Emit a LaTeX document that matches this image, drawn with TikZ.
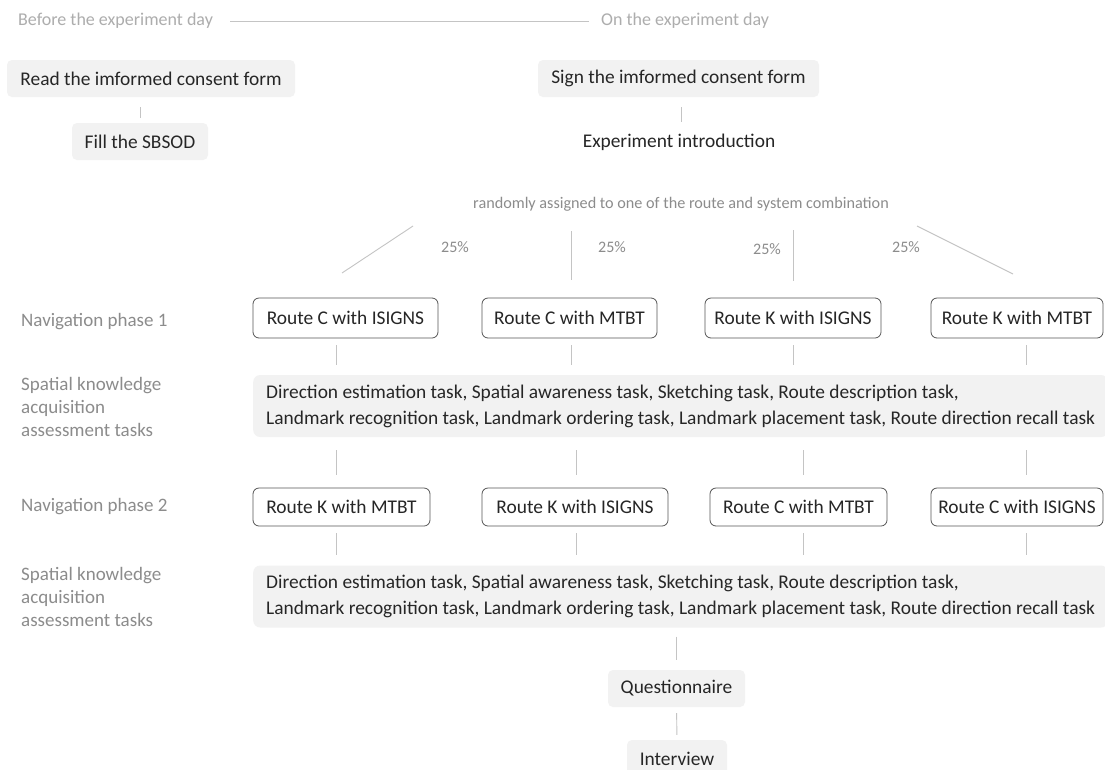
\documentclass[tikz,border=0pt]{standalone}
\usepackage{fontspec}
\setmainfont{Carlito}
\usetikzlibrary{calc}
\definecolor{boxgray}{HTML}{F2F2F2}
\definecolor{txt}{HTML}{262626}
\definecolor{lbl}{HTML}{8C8C8C}
\definecolor{hdr}{HTML}{ADADAD}
\definecolor{linegray}{HTML}{C4C4C4}
\definecolor{edge}{HTML}{555555}
\begin{document}
\begin{tikzpicture}[x=1pt,y=-1pt,
  base/.style={font=\fontsize{19.4}{26}\selectfont, text=txt, inner sep=0pt},
  graybox/.style={base, fill=boxgray, rounded corners=5pt},
  routebox/.style={base, draw=edge, fill=white, rounded corners=6pt, line width=0.8pt},
  taskbox/.style={font=\fontsize{19.4}{26}\selectfont, text=txt, fill=boxgray, rounded corners=7pt, align=left, inner xsep=13pt, inner ysep=0pt, minimum height=62pt, anchor=west},
  lab/.style={font=\fontsize{19}{23}\selectfont, text=lbl, align=left, anchor=west, inner sep=0pt},
  hdrtext/.style={font=\fontsize{18}{20}\selectfont, text=hdr, inner sep=0pt},
  pct/.style={font=\fontsize{16}{18}\selectfont, text=lbl, inner sep=0pt},
  conn/.style={draw=linegray, line width=0.9pt},
]
\useasboundingbox (0,0) rectangle (1105,769);
\fill[white] (0,0) rectangle (1105,769);

% header
\node[hdrtext, anchor=west] (before) at (18,21) {Before the experiment day};
\node[hdrtext, anchor=west] (on) at (601,21) {On the experiment day};
\draw[conn] ([xshift=17pt]before.east) -- ([xshift=-12pt]on.west);

% top boxes
\node[graybox, minimum width=288pt, minimum height=37pt] (read) at (151,78.5) {Read the imformed consent form};
\node[graybox, minimum width=136pt, minimum height=37pt] (fill) at (140,141.5) {Fill the SBSOD};
\node[graybox, minimum width=281pt, minimum height=37pt] (sign) at (678.5,78.5) {Sign the imformed consent form};
\node[base, minimum height=22pt] (intro) at (679,142) {Experiment introduction};
\draw[conn, shorten <=10pt, shorten >=5pt] (read.south -| fill.north) -- (fill.north);
\draw[conn, shorten <=10pt, shorten >=9pt] ([xshift=3pt]sign.south) -- ([xshift=3pt]sign.south |- intro.north);

\node[font=\fontsize{16.2}{18}\selectfont, text=lbl, inner sep=0pt] (rand) at (681,204) {randomly assigned to one of the route and system combination};

% distribution lines
\coordinate (d1a) at (413,226); \coordinate (d1b) at (342,273);
\coordinate (d2a) at (571,231); \coordinate (d2b) at (571,280);
\coordinate (d3a) at (793,230); \coordinate (d3b) at (793,281);
\coordinate (d4a) at (917,226); \coordinate (d4b) at (1013,274);
\draw[conn] (d1a) -- (d1b);
\draw[conn] (d2a) -- (d2b);
\draw[conn] (d3a) -- (d3b);
\draw[conn] (d4a) -- (d4b);
\node[pct] (p1) at (455,247) {25\%};
\node[pct] (p2) at (612,247) {25\%};
\node[pct] (p3) at (767,249) {25\%};
\node[pct] (p4) at (906,247) {25\%};

% row labels
\node[lab] (n1) at (21,322) {Navigation phase 1};
\node[lab] (s1) at (21,407) {Spatial knowledge\\acquisition\\assessment tasks};
\node[lab] (n2) at (21,507) {Navigation phase 2};
\node[lab] (s2) at (21,597) {Spatial knowledge\\acquisition\\assessment tasks};

% phase 1
\node[routebox, minimum width=185pt, minimum height=40pt] (a1) at (345.5,318) {Route C with ISIGNS};
\node[routebox, minimum width=175pt, minimum height=40pt] (a2) at (569.5,318) {Route C with MTBT};
\node[routebox, minimum width=176pt, minimum height=40pt] (a3) at (793,318) {Route K with ISIGNS};
\node[routebox, minimum width=172pt, minimum height=40pt] (a4) at (1017,318) {Route K with MTBT};

% task box 1
\node[taskbox] (t1) at (253,406) {Direction estimation task, Spatial awareness task, Sketching task, Route description task,\\Landmark recognition task, Landmark ordering task, Landmark placement task, Route direction recall task};

% phase 2
\node[routebox, minimum width=177pt, minimum height=38pt] (b1) at (341.5,507) {Route K with MTBT};
\node[routebox, minimum width=186pt, minimum height=38pt] (b2) at (575,507) {Route K with ISIGNS};
\node[routebox, minimum width=177pt, minimum height=38pt] (b3) at (798.5,507) {Route C with MTBT};
\node[routebox, minimum width=172pt, minimum height=38pt] (b4) at (1017,507) {Route C with ISIGNS};

% task box 2
\node[taskbox] (t2) at (253,596.5) {Direction estimation task, Spatial awareness task, Sketching task, Route description task,\\Landmark recognition task, Landmark ordering task, Landmark placement task, Route direction recall task};

% bottom
\node[graybox, minimum width=137pt, minimum height=37pt] (q) at (676.5,688.5) {Questionnaire};
\node[graybox, minimum width=100pt, minimum height=38pt] (iv) at (677,759) {Interview};

% column coordinates
\coordinate (c1) at (336,0);
\coordinate (c2) at (571,0);
\coordinate (c3) at (793,0);
\coordinate (c4) at (1026,0);
\coordinate (e2) at (576,0);
\coordinate (e3) at (803,0);

\foreach \a/\c in {a1/c1,a2/c2,a3/c3,a4/c4}
  \draw[conn, shorten <=7pt, shorten >=10pt] (\a.south -| \c) -- (t1.north -| \c);
\foreach \b/\c in {b1/c1,b2/e2,b3/e3,b4/c4}
  \draw[conn, shorten <=13pt, shorten >=13pt] (t1.south -| \c) -- (\b.north -| \c);
\foreach \b/\c in {b1/c1,b2/e2,b3/e3,b4/c4}
  \draw[conn, shorten <=7pt, shorten >=10pt] (\b.south -| \c) -- (t2.north -| \c);
\draw[conn, shorten <=9pt, shorten >=10pt] (t2.south -| q.north) -- (q.north);
\draw[conn, shorten <=6pt, shorten >=5pt] (q.south) -- (iv.north);
\end{tikzpicture}
\end{document}
